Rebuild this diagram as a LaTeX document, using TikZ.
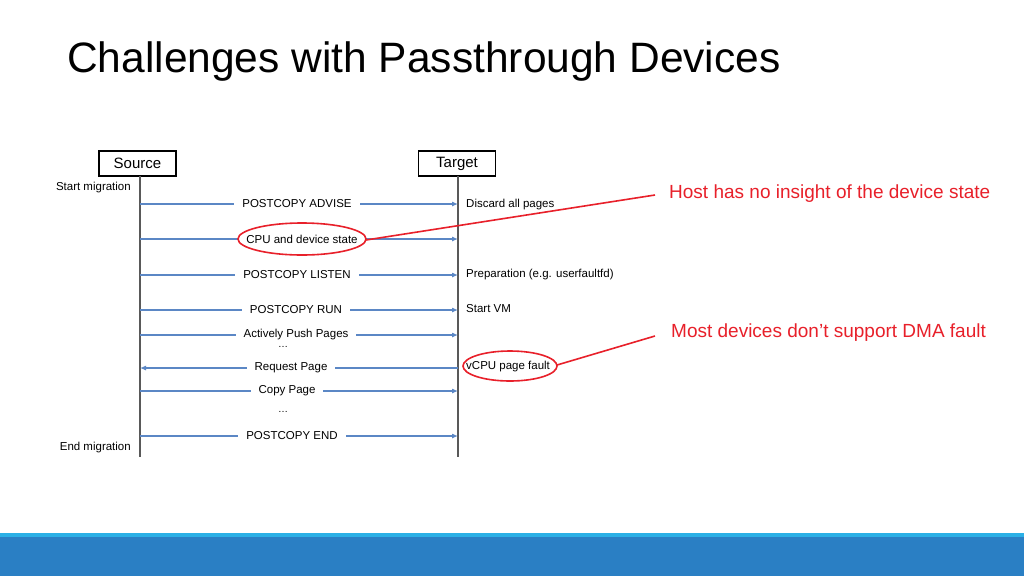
\documentclass[tikz,border=0pt]{standalone}
\usepackage{fontspec}
\setmainfont{Liberation Sans}
\usetikzlibrary{arrows.meta}
\definecolor{arr}{HTML}{5B87C5}
\definecolor{barlight}{HTML}{2BB0E6}
\definecolor{bar}{HTML}{2A7FC4}
\definecolor{hl}{HTML}{E8202A}
\begin{document}
\begin{tikzpicture}[x=1pt,y=-1pt,
  lbl/.style={font=\fontsize{11.5}{13}\selectfont, fill=white, inner xsep=8pt, inner ysep=2pt},
  side/.style={font=\fontsize{11.5}{13}\selectfont, anchor=west, inner sep=0pt},
  msg/.style={draw=arr, line width=1.1pt, -{Latex[length=6pt,width=5pt]}},
  box/.style={draw, line width=1.5pt, minimum width=77pt, minimum height=25pt, font=\fontsize{15}{17}\selectfont},
  redtxt/.style={text=hl, font=\fontsize{19}{22}\selectfont, anchor=west, inner sep=0pt},
  redl/.style={draw=hl, line width=1.6pt}]
\useasboundingbox (0,0) rectangle (1024,576);
\fill[white] (0,0) rectangle (1024,576);
\fill[barlight] (0,533) rectangle (1024,537);
\fill[bar] (0,537) rectangle (1024,576);
\node[anchor=west, inner sep=0pt, font=\fontsize{42.5}{48}\selectfont] (title) at (67,62) {Challenges with Passthrough Devices};
\node[box] (src) at (137.5,163.5) {Source};
\node[box] (tgt) at (457,163.5) {Target};
\coordinate (sb) at (140,457); \coordinate (tb) at (458,457);
\draw[line width=1.4pt, gray!70!black] (140,176) -- (sb);
\draw[line width=1.4pt, gray!70!black] (458,176) -- (tb);
\node[anchor=east, inner sep=0pt, font=\fontsize{11.5}{13}\selectfont] (sm) at (131,188) {Start migration};
\node[anchor=east, inner sep=0pt, font=\fontsize{11.5}{13}\selectfont] (em) at (131,448) {End migration};
\foreach \y/\n in {204/m1, 239/m2, 275/m3, 310/m4, 335/m5, 391/m7, 436/m8}{
  \coordinate (\n a) at (140,\y); \coordinate (\n b) at (458,\y);
  \draw[msg] (\n a) -- (\n b);
}
\coordinate (m6a) at (458,368); \coordinate (m6b) at (140,368);
\draw[msg] (m6a) -- (m6b);
\node[lbl] (l1) at (297,204) {POSTCOPY ADVISE};
\node[lbl] (l2) at (302,239) {CPU and device state};
\node[lbl] (l3) at (297,275) {POSTCOPY LISTEN};
\node[lbl] (l4) at (296,310) {POSTCOPY RUN};
\node[lbl] (l5) at (296,335) {Actively Push Pages};
\node[lbl] (l6) at (291,368) {Request Page};
\node[lbl] (l7) at (287,391) {Copy Page};
\node[lbl] (l8) at (292,436) {POSTCOPY END};
\node[font=\fontsize{10}{10}\selectfont, inner sep=0pt] (d1) at (283,347) {\dots};
\node[font=\fontsize{10}{10}\selectfont, inner sep=0pt] (d2) at (283,412) {\dots};
\node[side] (r1) at (466,205) {Discard all pages};
\node[side] (r3) at (466,275) {Preparation (e.g. userfaultfd)};
\node[side] (r4) at (466,309) {Start VM};
\node[side] (r6) at (466,367) {vCPU page fault};
\draw[redl] (302,239) ellipse (64 and 16);
\draw[redl] (510,366) ellipse (47 and 15);
\node[redtxt] (h1) at (669,194) {Host has no insight of the device state};
\node[redtxt] (h2) at (671,333) {Most devices don’t support DMA fault};
\coordinate (e1) at (366,240); \coordinate (e2) at (557,365);
\draw[redl] (e1) -- (655,195);
\draw[redl] (e2) -- (655,336);
\end{tikzpicture}
\end{document}
